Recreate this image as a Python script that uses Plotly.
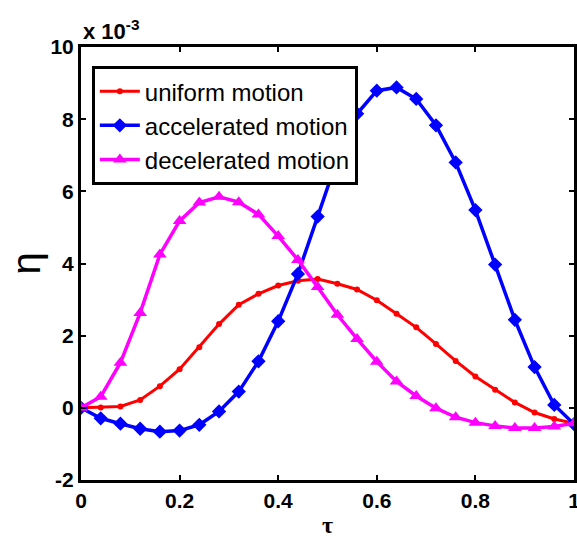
import plotly.graph_objects as go

tau = [round(i * 0.04, 2) for i in range(26)]

uniform = [0.0, 0.01, 0.04, 0.22, 0.60, 1.07, 1.68, 2.32, 2.86, 3.16, 3.39, 3.52,
           3.57, 3.44, 3.28, 2.98, 2.61, 2.23, 1.77, 1.30, 0.87, 0.50, 0.15, -0.13,
           -0.31, -0.43]
accelerated = [0.0, -0.29, -0.44, -0.58, -0.66, -0.63, -0.47, -0.10, 0.45, 1.29,
               2.40, 3.71, 5.30, 6.90, 8.15, 8.79, 8.88, 8.56, 7.83, 6.80, 5.48,
               3.97, 2.44, 1.13, 0.08, -0.45]
decelerated = [0.0, 0.31, 1.25, 2.63, 4.25, 5.18, 5.69, 5.85, 5.70, 5.36, 4.76,
               4.10, 3.35, 2.58, 1.91, 1.28, 0.73, 0.33, -0.01, -0.26, -0.41, -0.50,
               -0.56, -0.56, -0.52, -0.43]

names = ["uniform motion", "accelerated motion", "decelerated motion"]
xticks = [0, 0.2, 0.4, 0.6, 0.8, 1]
xticklabels = ["0", "0.2", "0.4", "0.6", "0.8", "1"]
yticks = [-2, 0, 2, 4, 6, 8, 10]

scale = 1e-3
fig = go.Figure()
fig.add_trace(go.Scatter(x=tau, y=[v * scale for v in uniform], name=names[0],
                         mode="lines+markers", line=dict(color="#FF0000", width=3),
                         marker=dict(symbol="circle", size=6, color="#FF0000")))
fig.add_trace(go.Scatter(x=tau, y=[v * scale for v in accelerated], name=names[1],
                         mode="lines+markers", line=dict(color="#0000FF", width=3.5),
                         marker=dict(symbol="diamond", size=11, color="#0000FF")))
fig.add_trace(go.Scatter(x=tau, y=[v * scale for v in decelerated], name=names[2],
                         mode="lines+markers", line=dict(color="#FF00FF", width=3.5),
                         marker=dict(symbol="triangle-up", size=12, color="#FF00FF")))

tickfont = dict(family="Arial, Liberation Sans", size=21, color="black", weight="bold")
fig.update_layout(
    width=577, height=538,
    margin=dict(l=81, r=3, t=47, b=58),
    paper_bgcolor="white", plot_bgcolor="white",
    showlegend=True,
    legend=dict(x=0.022, y=0.956, xanchor="left", yanchor="top",
                bgcolor="white", bordercolor="black", borderwidth=3,
                font=dict(family="Arial, Liberation Sans", size=24, color="black"),
                tracegroupgap=0, itemwidth=40),
    xaxis=dict(range=[0, 1], tickvals=xticks, ticktext=xticklabels, automargin=False,
               ticklabeloverflow="allow",
               showgrid=False, zeroline=False, showline=True, linecolor="black",
               linewidth=3, mirror="ticks", ticks="inside", ticklen=5, tickwidth=2,
               tickcolor="black", tickfont=tickfont),
    yaxis=dict(range=[-2 * scale, 10 * scale], tickvals=[v * scale for v in yticks],
               ticktext=[str(v) for v in yticks], automargin=False,
               ticklabeloverflow="allow",
               showgrid=False, zeroline=False, showline=True, linecolor="black",
               linewidth=3, mirror="ticks", ticks="inside", ticklen=5, tickwidth=2,
               tickcolor="black", tickfont=tickfont),
    annotations=[
        dict(text="x 10<sup>-3</sup>", x=0, xref="paper", y=1, yref="paper",
             xanchor="left", yanchor="bottom", yshift=1, showarrow=False,
             font=dict(family="Arial, Liberation Sans", size=22, color="black", weight="bold")),
        dict(text="η", x=0, xref="paper", y=0.5, yref="paper", xshift=-56,
             textangle=-90, xanchor="center", yanchor="middle", showarrow=False,
             font=dict(family="Arial, Liberation Sans", size=40, color="black")),
        dict(text="τ", x=0.5, xref="paper", y=0, yref="paper", yshift=-45,
             xanchor="center", yanchor="middle", showarrow=False,
             font=dict(family="Liberation Serif, Times New Roman", size=24, color="black", weight="bold")),
    ],
)

fig.write_html("out.html", config={"displayModeBar": False},
               post_script="document.body.style.margin='0';")
